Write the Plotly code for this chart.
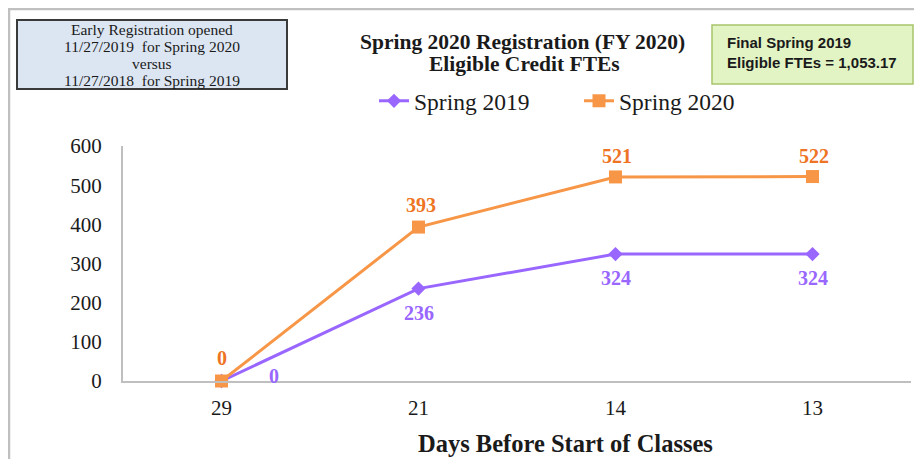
import plotly.graph_objects as go

# ---- data ----
days = ["29", "21", "14", "13"]
spring_2019 = [0, 236, 324, 324]
spring_2020 = [0, 393, 521, 522]
y_ticks = [0, 100, 200, 300, 400, 500, 600]

PURPLE = "#9966ff"
ORANGE = "#f79646"
ORANGE_TXT = "#ee7424"
SERIF = "Liberation Serif, Times New Roman, serif"
SANS = "Liberation Sans, Arial, sans-serif"

OFF = 8  # page body margin
W, H = 922 - 2 * OFF, 467 - 2 * OFF
L, T = 123 - OFF, 146 - OFF
PW, PH = 788, 235
R = W - L - PW
B = H - T - PH


def px(x):
    """screen x -> paper x"""
    return (x - OFF - L) / PW


def py(y):
    """screen y -> paper y"""
    return (H - B - (y - OFF)) / PH


fig = go.Figure()
fig.add_trace(go.Scatter(
    x=days, y=spring_2019, name="Spring 2019", mode="lines+markers",
    line=dict(color=PURPLE, width=3),
    marker=dict(symbol="diamond", size=11, color=PURPLE),
    cliponaxis=False,
))
fig.add_trace(go.Scatter(
    x=days, y=spring_2020, name="Spring 2020", mode="lines+markers",
    line=dict(color=ORANGE, width=3),
    marker=dict(symbol="square", size=13, color=ORANGE),
    cliponaxis=False,
))

annotations = []
# data labels (x given as category index)
s19_shift = [(52, 5), (0, -24), (0, -24), (0, -24)]
s20_shift = [(0, 23), (2, 22), (1, 21), (1, 21)]
for i, (v, (dx, dy)) in enumerate(zip(spring_2019, s19_shift)):
    annotations.append(dict(x=i, y=v, text=f"<b>{v}</b>", showarrow=False,
                            xshift=dx, yshift=dy, xanchor="center", yanchor="middle",
                            font=dict(family=SERIF, size=20, color=PURPLE)))
for i, (v, (dx, dy)) in enumerate(zip(spring_2020, s20_shift)):
    annotations.append(dict(x=i, y=v, text=f"<b>{v}</b>", showarrow=False,
                            xshift=dx, yshift=dy, xanchor="center", yanchor="middle",
                            font=dict(family=SERIF, size=20, color=ORANGE_TXT)))

# title
annotations.append(dict(
    xref="paper", yref="paper", x=px(522), y=py(42), xanchor="center", yanchor="middle",
    text="<b>Spring 2020 Registration (FY 2020)</b>", showarrow=False,
    font=dict(family=SERIF, size=21.5, color="#1a1a1a")))
annotations.append(dict(
    xref="paper", yref="paper", x=px(524), y=py(64), xanchor="center", yanchor="middle",
    text="<b>Eligible Credit FTEs</b>", showarrow=False,
    font=dict(family=SERIF, size=21.5, color="#1a1a1a")))
# x axis title
annotations.append(dict(
    xref="paper", yref="paper", x=px(565), y=py(443), xanchor="center", yanchor="middle",
    text="<b>Days Before Start of Classes</b>", showarrow=False,
    font=dict(family=SERIF, size=24.5, color="#1a1a1a")))
# left note box, line by line
note_lines = ["Early Registration opened", "11/27/2019  for Spring 2020", "versus",
              "11/27/2018  for Spring 2019"]
note_y = [29, 47, 64, 81]
for t, yy in zip(note_lines, note_y):
    annotations.append(dict(
        xref="paper", yref="paper", x=px(152), y=py(yy), xanchor="center", yanchor="middle",
        text=t.replace("  ", "&nbsp; "), showarrow=False,
        font=dict(family=SERIF, size=15.5, color="#1a1a1a")))
# right note box
annotations.append(dict(
    xref="paper", yref="paper", x=px(725), y=py(52), xanchor="left", yanchor="middle",
    text="<b>Final Spring 2019<br>Eligible FTEs = 1,053.17</b>",
    showarrow=False, align="left",
    font=dict(family=SANS, size=15, color="#1a1a1a")))

shapes = [
    # outer frame
    dict(type="line", xref="paper", yref="paper", x0=px(9), x1=px(9), y0=py(470), y1=py(9),
         line=dict(color="#c0c0c0", width=2.5)),
    dict(type="line", xref="paper", yref="paper", x0=px(8), x1=px(925), y0=py(9), y1=py(9),
         line=dict(color="#c0c0c0", width=2.5)),
    # left box
    dict(type="rect", xref="paper", yref="paper", x0=px(17), x1=px(287), y0=py(89), y1=py(20),
         fillcolor="#dce6f2", line=dict(color="#3a3a3a", width=2), layer="below"),
    # right box
    dict(type="rect", xref="paper", yref="paper", x0=px(712), x1=px(913), y0=py(84), y1=py(25),
         fillcolor="#e2f4c4", line=dict(color="#a6c46a", width=1.5), layer="below"),
]

fig.update_layout(
    width=W, height=H,
    margin=dict(l=L, r=R, t=T, b=B, pad=0),
    paper_bgcolor="white", plot_bgcolor="white",
    showlegend=True,
    legend=dict(orientation="h", x=px(374), y=py(101), xanchor="left", yanchor="middle",
                font=dict(family=SERIF, size=23.5, color="#1a1a1a"),
                entrywidth=160, bgcolor="rgba(0,0,0,0)"),
    annotations=annotations,
    shapes=shapes,
    xaxis=dict(type="category", range=[-0.5, len(days) - 0.5], showgrid=False,
               showline=True, linecolor="#bfbfbf",
               linewidth=2, ticks="", ticklabelstandoff=7, zeroline=False,
               tickfont=dict(family=SERIF, size=21, color="#1a1a1a"), fixedrange=True),
    yaxis=dict(range=[0, 600], tickvals=y_ticks, showgrid=False, showline=True,
               linecolor="#bfbfbf", linewidth=2, ticks="", ticklabelstandoff=15,
               zeroline=False, tickfont=dict(family=SERIF, size=21, color="#1a1a1a"),
               fixedrange=True),
)

fig.write_html("out.html")
